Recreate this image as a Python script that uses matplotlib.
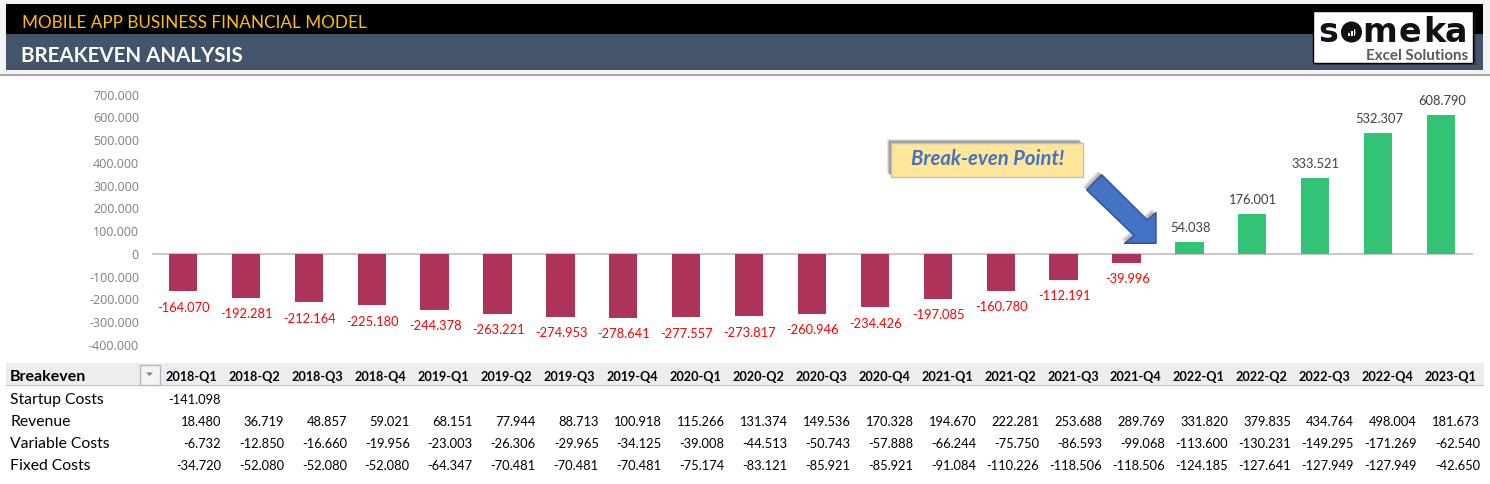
import matplotlib
matplotlib.use('Agg')
import matplotlib.pyplot as plt
from matplotlib.patches import Rectangle, Polygon, Circle
from matplotlib.transforms import ScaledTranslation

plt.rcParams['font.family'] = ['Lato', 'DejaVu Sans']

quarters = ['2018-Q1', '2018-Q2', '2018-Q3', '2018-Q4', '2019-Q1', '2019-Q2', '2019-Q3',
            '2019-Q4', '2020-Q1', '2020-Q2', '2020-Q3', '2020-Q4', '2021-Q1', '2021-Q2',
            '2021-Q3', '2021-Q4', '2022-Q1', '2022-Q2', '2022-Q3', '2022-Q4', '2023-Q1']
breakeven = [-164070, -192281, -212164, -225180, -244378, -263221, -274953,
             -278641, -277557, -273817, -260946, -234426, -197085, -160780,
             -112191, -39996, 54038, 176001, 333521, 532307, 608790]
startup = [-141098]
revenue = [18480, 36719, 48857, 59021, 68151, 77944, 88713, 100918, 115266, 131374, 149536,
           170328, 194670, 222281, 253688, 289769, 331820, 379835, 434764, 498004, 181673]
variable = [-6732, -12850, -16660, -19956, -23003, -26306, -29965, -34125, -39008, -44513, -50743,
            -57888, -66244, -75750, -86593, -99068, -113600, -130231, -149295, -171269, -62540]
fixed = [-34720, -52080, -52080, -52080, -64347, -70481, -70481, -70481, -75174, -83121, -85921,
         -85921, -91084, -110226, -118506, -118506, -124185, -127641, -127949, -127949, -42650]
rows = [('Startup Costs', startup), ('Revenue', revenue),
        ('Variable Costs', variable), ('Fixed Costs', fixed)]
y_ticks = [700000, 600000, 500000, 400000, 300000, 200000, 100000, 0,
           -100000, -200000, -300000, -400000]

W, H = 1490, 485


def dotted(v):
    return f'{v:,}'.replace(',', '.')


fig = plt.figure(figsize=(W / 100, H / 100), dpi=100, facecolor='white')

# page furniture, drawn in pixel coordinates
bg = fig.add_axes([0, 0, 1, 1])
bg.set_xlim(0, W)
bg.set_ylim(H, 0)
bg.axis('off')
bg.add_patch(Rectangle((0, 0), W, 75, fc='#F4F4F4', ec='none'))
bg.add_patch(Rectangle((0, 75), W, 1.5, fc='#A6A6A6', ec='none'))
bg.add_patch(Rectangle((6, 5), 1477, 30, fc='black', ec='none'))
bg.add_patch(Rectangle((6, 35), 1477, 36, fc='#44546A', ec='none'))
bg.text(21.5, 23, 'MOBILE APP BUSINESS FINANCIAL MODEL', color='#FFC000', fontsize=12.3,
        va='center', ha='left')
bg.text(21, 56, 'BREAKEVEN ANALYSIS', color='white', fontsize=14.8, fontweight='bold',
        va='center', ha='left')

# logo, letters placed one by one because the wordmark is wide
bg.add_patch(Rectangle((1315, 14), 161, 52, fc='#222222', ec='none', alpha=0.45))
bg.add_patch(Rectangle((1313, 12), 160, 52, fc='white', ec='black', lw=1))
for letter, lx in zip('someka', [1328, 1351.5, 1380, 1409.5, 1434, 1456]):
    bg.text(lx, 42, letter, color='#111111', fontsize=24, fontweight='bold',
            family='DejaVu Sans', va='baseline', ha='center')
bg.add_patch(Circle((1351.5, 33), 10.5, fc='#111111', ec='none'))
for bx, bh in [(1348, 3), (1351, 5), (1354, 7)]:
    bg.add_patch(Rectangle((bx, 37 - bh), 2, bh, fc='white', ec='none'))
bg.text(1468, 56, 'Excel Solutions', color='#595959', fontsize=10.9, fontweight='bold',
        va='center', ha='right')

# table
bg.add_patch(Rectangle((6, 364), 1478, 22, fc='#EDEDED', ec='none'))
bg.add_patch(Rectangle((6, 386), 1478, 1.2, fc='#BFBFBF', ec='none'))
bg.add_patch(Rectangle((140, 365.5), 19.5, 20, fc='#F4F4F4', ec='#B4B8C4', lw=1))
bg.add_patch(Polygon([(146, 373.5), (153, 373.5), (149.5, 377)], fc='#7F7F7F', ec='none'))
bg.text(10, 377.5, 'Breakeven', color='black', fontsize=11.5, fontweight='bold',
        va='center', ha='left')

col_step = 62.95
for i, q in enumerate(quarters):
    bg.text(217.5 + i * col_step, 377.5, q, color='black', fontsize=9.1, fontweight='bold',
            va='center', ha='right')
for r, (name, vals) in enumerate(rows):
    y = 400 + r * 22
    bg.text(10, y, name, color='black', fontsize=11.3, va='center', ha='left')
    for i, v in enumerate(vals):
        bg.text(221 + i * col_step, y + 0.5, dotted(v), color='black', fontsize=9.3,
                va='center', ha='right')

# chart
top, bottom, left, right = 95.7, 346.2, 151.5, 1472.5
ax = fig.add_axes([left / W, 1 - bottom / H, (right - left) / W, (bottom - top) / H])
ax.patch.set_alpha(0)
x = list(range(len(breakeven)))
colors = ['#AE3359' if v < 0 else '#33C375' for v in breakeven]
bars = ax.bar(x, breakeven, width=0.45, color=colors, zorder=2)
ax.set_xlim(-0.5, len(breakeven) - 0.5)
ax.set_ylim(-400000, 700000)
ax.axhline(0, color='#BFBFBF', lw=1.2, zorder=1)
ax.set_xticks([])
ax.set_yticks(y_ticks)
ax.set_yticklabels([dotted(v) for v in y_ticks], color='#7F7F7F', fontsize=9, family='Open Sans')
ax.tick_params(axis='y', length=0, pad=9)
# nudge the axis labels up a little
up = ScaledTranslation(0, 1.2 / 100, fig.dpi_scale_trans)
for lab in ax.get_yticklabels():
    lab.set_transform(lab.get_transform() + up)
for s in ax.spines.values():
    s.set_visible(False)
for xi, v in zip(x, breakeven):
    ax.annotate(dotted(v), (xi, v), xytext=(0.5, -11 if v < 0 else 11), textcoords='offset points',
                ha='center', va='center', fontsize=9.3,
                color='#FF0000' if v < 0 else '#404040')

# callout and arrow on top of the chart
over = fig.add_axes([0, 0, 1, 1])
over.set_xlim(0, W)
over.set_ylim(H, 0)
over.axis('off')
over.patch.set_alpha(0)
for d, a in [(4, 0.12), (3, 0.2), (2, 0.3)]:
    over.add_patch(Rectangle((891 - d, 144 - d), 192, 34, fc='#404040', ec='none', alpha=a))
over.add_patch(Rectangle((891, 144), 192, 34, fc='#FFE699', ec='#BFBFBF', lw=1))
over.text(987.5, 159.5, 'Break-even Point!', color='#4472C4', fontsize=14.6, fontweight='bold',
          style='italic', va='center', ha='center')
arrow = [(1101.7, 175.7), (1086.7, 191), (1134.3, 236.7), (1124.3, 244.3),
         (1156, 244.3), (1156, 213.3), (1147.3, 221)]
for d, a in [(4, 0.1), (3, 0.15), (2, 0.2)]:
    over.add_patch(Polygon([(px - d, py - d) for px, py in arrow], fc='#404040', ec='none', alpha=a))
over.add_patch(Polygon(arrow, fc='#4472C4', ec='#2F528F', lw=1))

fig.savefig('out.png', dpi=100)
